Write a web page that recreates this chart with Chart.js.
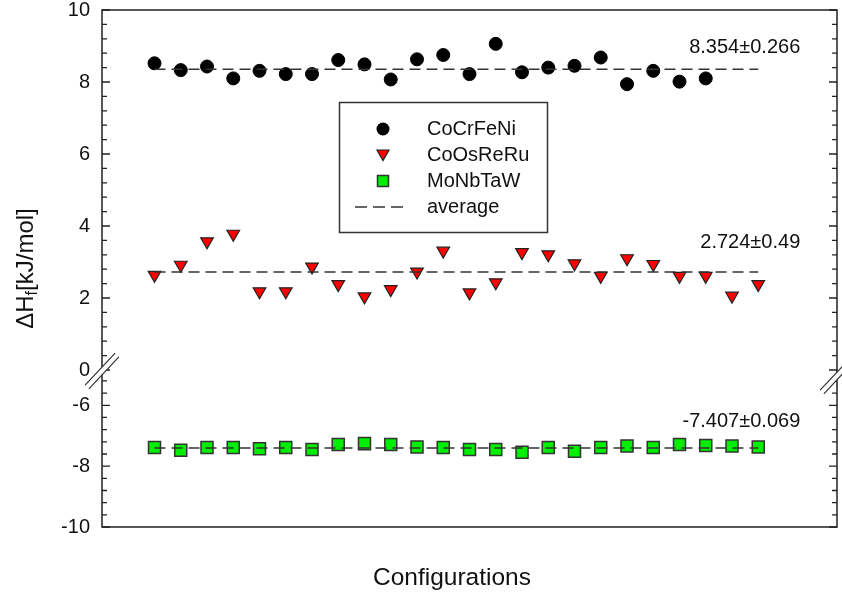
<!DOCTYPE html>
<html>
<head>
<meta charset="utf-8">
<script src="https://cdn.jsdelivr.net/npm/chart.js@4.4.1/dist/chart.umd.min.js"></script>
<style>
  html, body { margin: 0; padding: 0; background: #fff; }
</style>
</head>
<body>
<canvas id="chart" width="842" height="596"></canvas>
<script>
// configuration index on the x axis
var configs = [1, 2, 3, 4, 5, 6, 7, 8, 9, 10, 11, 12, 13, 14, 15, 16, 17, 18, 19, 20, 21, 22, 23, 24];

// formation enthalpy per configuration (kJ/mol)
var cocrfeni = [8.52, 8.33, 8.43, 8.10, 8.31, 8.22, 8.22, 8.61, 8.49, 8.07, 8.63, 8.75,
                8.22, 9.06, 8.27, 8.40, 8.45, 8.68, 7.94, 8.31, 8.01, 8.10];
var coosreru = [2.64, 2.92, 3.57, 3.78, 2.18, 2.18, 2.87, 2.38, 2.04, 2.24, 2.73, 3.31,
                2.15, 2.43, 3.27, 3.21, 2.96, 2.61, 3.10, 2.94, 2.61, 2.61, 2.06, 2.38];
var monbtaw  = [-7.39, -7.48, -7.39, -7.39, -7.43, -7.39, -7.45, -7.29, -7.26, -7.29, -7.37, -7.39,
                -7.45, -7.45, -7.54, -7.39, -7.51, -7.39, -7.34, -7.39, -7.29, -7.32, -7.34, -7.37];

var seriesNames = ['CoCrFeNi', 'CoOsReRu', 'MoNbTaW'];
var means = [8.354, 2.724, -7.407];
var meanLabels = ['8.354\u00b10.266', '2.724\u00b10.49', '-7.407\u00b10.069'];

var highTicks = [0, 2, 4, 6, 8, 10];
var lowTicks = [-10, -8, -6];

var FONT = "'Liberation Sans', Arial, sans-serif";
var INK = '#111';
Chart.defaults.font.family = FONT;
Chart.defaults.color = INK;

function toPoints(vals) {
  return vals.map(function (v, i) { return { x: configs[i], y: v }; });
}
function meanLine(m) {
  return [{ x: configs[0], y: m }, { x: configs[configs.length - 1], y: m }];
}
function noPad(s) {
  s.paddingTop = 0; s.paddingBottom = 0; s.paddingLeft = 0; s.paddingRight = 0;
}

var avgStyle = {
  type: 'line', showLine: true, borderColor: '#333', borderWidth: 1.5,
  borderDash: [11, 6], pointRadius: 0, fill: false, order: 0
};

// frame, ticks, axis break, mean labels, axis titles, legend
var decor = {
  id: 'decor',
  afterDraw: function (chart) {
    var ctx = chart.ctx, a = chart.chartArea;
    var hi = chart.scales.yHigh, lo = chart.scales.yLow, xs = chart.scales.x;
    ctx.save();

    // frame
    ctx.strokeStyle = '#222';
    ctx.lineWidth = 1.5;
    ctx.strokeRect(a.left, a.top, a.right - a.left, a.bottom - a.top);

    // inward tick marks, minor every 0.4
    ctx.lineWidth = 1.3;
    [hi, lo].forEach(function (s) {
      for (var k = Math.ceil(s.min / 0.4 - 1e-6); k * 0.4 <= s.max + 1e-6; k++) {
        var v = k * 0.4, y = s.getPixelForValue(v);
        var len = (Math.abs(v / 2 - Math.round(v / 2)) < 1e-6) ? 8 : 5;
        ctx.beginPath();
        ctx.moveTo(a.left, y); ctx.lineTo(a.left + len, y);
        ctx.moveTo(a.right, y); ctx.lineTo(a.right - len, y);
        ctx.stroke();
      }
    });

    // axis break marks
    var by = hi.bottom;
    function brk(x, y) {
      var dx = 15, dy = 16, px = 1.9, py = 1.8;
      ctx.strokeStyle = '#fff'; ctx.lineWidth = 5;
      ctx.beginPath(); ctx.moveTo(x - dx, y + dy); ctx.lineTo(x + dx, y - dy); ctx.stroke();
      ctx.strokeStyle = '#333'; ctx.lineWidth = 1.2;
      ctx.beginPath();
      ctx.moveTo(x - dx - px, y + dy - py); ctx.lineTo(x + dx - px, y - dy - py);
      ctx.moveTo(x - dx + px, y + dy + py); ctx.lineTo(x + dx + px, y - dy + py);
      ctx.stroke();
    }
    brk(a.left, by + 1);
    brk(a.right, by + 6);

    // mean value labels
    var lift = [16, 24, 21];
    ctx.fillStyle = INK;
    ctx.font = '20px ' + FONT;
    ctx.textAlign = 'right';
    ctx.textBaseline = 'alphabetic';
    var scalesFor = [hi, hi, lo];
    means.forEach(function (m, i) {
      ctx.fillText(meanLabels[i], xs.getPixelForValue(25.6), scalesFor[i].getPixelForValue(m) - lift[i]);
    });

    // x axis title
    ctx.font = '24.5px ' + FONT;
    ctx.textAlign = 'center';
    ctx.textBaseline = 'middle';
    ctx.fillText('Configurations', 452, 578);

    // y axis title with subscript
    ctx.save();
    ctx.translate(26, (a.top + a.bottom) / 2);
    ctx.rotate(-Math.PI / 2);
    ctx.textAlign = 'left';
    ctx.textBaseline = 'middle';
    var big = '24px ' + FONT, small = '16px ' + FONT;
    ctx.font = big; var w1 = ctx.measureText('\u0394H').width;
    ctx.font = small; var w2 = ctx.measureText('f').width;
    ctx.font = big; var w3 = ctx.measureText('[kJ/mol]').width;
    var x0 = -(w1 + w2 + w3) / 2;
    ctx.font = big; ctx.fillText('\u0394H', x0, 0);
    ctx.font = small; ctx.fillText('f', x0 + w1, 7);
    ctx.font = big; ctx.fillText('[kJ/mol]', x0 + w1 + w2, 0);
    ctx.restore();

    // legend box
    var L = 339, T = 102, W = 208, H = 130;
    ctx.fillStyle = '#fff';
    ctx.fillRect(L, T, W, H);
    ctx.strokeStyle = '#333'; ctx.lineWidth = 1.5;
    ctx.strokeRect(L + 0.5, T + 0.5, W, H);
    var rows = [129, 155, 181, 207], mx = 383, tx = 427;
    ctx.font = '20px ' + FONT;
    ctx.textAlign = 'left';
    ctx.textBaseline = 'middle';
    // circle
    ctx.fillStyle = '#000';
    ctx.beginPath(); ctx.arc(mx, rows[0], 6.5, 0, Math.PI * 2); ctx.fill();
    // down triangle
    ctx.fillStyle = '#ff0000'; ctx.strokeStyle = '#222'; ctx.lineWidth = 1.2;
    ctx.beginPath();
    ctx.moveTo(mx - 6, rows[1] - 5); ctx.lineTo(mx + 6, rows[1] - 5); ctx.lineTo(mx, rows[1] + 5.5);
    ctx.closePath(); ctx.fill(); ctx.stroke();
    // square
    ctx.fillStyle = '#00ee00'; ctx.strokeStyle = '#333'; ctx.lineWidth = 1.5;
    ctx.fillRect(mx - 5.5, rows[2] - 5.5, 11, 11);
    ctx.strokeRect(mx - 5.5, rows[2] - 5.5, 11, 11);
    // dashed line
    ctx.strokeStyle = '#333'; ctx.lineWidth = 1.5;
    ctx.setLineDash([12, 6]);
    ctx.beginPath(); ctx.moveTo(355, rows[3]); ctx.lineTo(406, rows[3]); ctx.stroke();
    ctx.setLineDash([]);
    ctx.fillStyle = INK;
    seriesNames.concat(['average']).forEach(function (t, i) {
      ctx.fillText(t, tx, rows[i]);
    });

    ctx.restore();
  }
};

function yAxis(min, max, weight, ticks) {
  return {
    type: 'linear', position: 'left', stack: 'v', stackWeight: weight,
    min: min, max: max,
    afterBuildTicks: function (s) { s.ticks = ticks.map(function (v) { return { value: v }; }); },
    afterFit: function (s) { s.width = 102; noPad(s); },
    ticks: { autoSkip: false, padding: 12, font: { size: 20 }, color: INK },
    grid: { display: false, drawTicks: false },
    border: { display: false }
  };
}

new Chart(document.getElementById('chart'), {
  type: 'scatter',
  data: {
    datasets: [
      Object.assign({ data: meanLine(means[0]), yAxisID: 'yHigh' }, avgStyle),
      Object.assign({ data: meanLine(means[1]), yAxisID: 'yHigh' }, avgStyle),
      Object.assign({ data: meanLine(means[2]), yAxisID: 'yLow' }, avgStyle),
      {
        label: seriesNames[0], data: toPoints(cocrfeni), yAxisID: 'yHigh', order: 1,
        pointStyle: 'circle', pointRadius: 6.5, backgroundColor: '#000', borderColor: '#000', borderWidth: 1
      },
      {
        label: seriesNames[1], data: toPoints(coosreru), yAxisID: 'yHigh', order: 1,
        pointStyle: 'triangle', rotation: 180, pointRadius: 7.3,
        backgroundColor: '#ff0000', borderColor: '#222', borderWidth: 1.2
      },
      {
        label: seriesNames[2], data: toPoints(monbtaw), yAxisID: 'yLow', order: 1,
        pointStyle: 'rect', pointRadius: 8.5,
        backgroundColor: '#00ee00', borderColor: '#333', borderWidth: 1.5
      }
    ]
  },
  options: {
    responsive: false,
    animation: false,
    layout: { autoPadding: false, padding: { top: 10, right: 5, left: 0, bottom: 0 } },
    plugins: { legend: { display: false }, tooltip: { enabled: false } },
    scales: {
      x: {
        type: 'linear', min: -1, max: 27,
        ticks: { display: false },
        grid: { display: false, drawTicks: false },
        border: { display: false },
        afterFit: function (s) { s.height = 69; noPad(s); }
      },
      yLow: yAxis(-10, -4.84, 157, lowTicks),
      yHigh: yAxis(0, 10, 360, highTicks)
    }
  },
  plugins: [decor]
});
</script>
</body>
</html>
